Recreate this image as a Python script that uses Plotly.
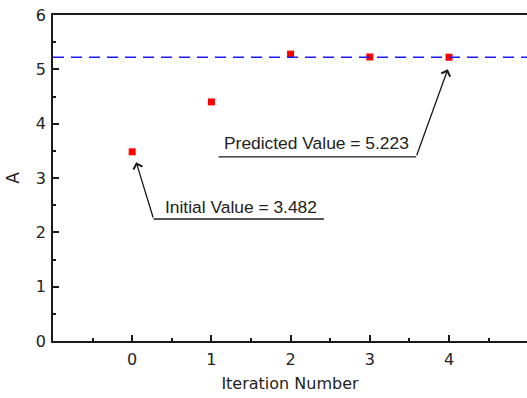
import plotly.graph_objects as go

iterations = [0, 1, 2, 3, 4]
a_values = [3.482, 4.40, 5.28, 5.227, 5.223]
initial_value = 3.482
predicted_value = 5.223
x_tick_vals = [0, 1, 2, 3, 4]
y_tick_vals = [0, 1, 2, 3, 4, 5, 6]

AX = "#1a1a1a"
TICKFONT = dict(family="DejaVu Sans", size=16, color="#222")

fig = go.Figure()
fig.add_hline(y=predicted_value, line=dict(color="#1a1aff", width=1.6, dash="11px,7px"))
fig.add_trace(go.Scatter(
    x=iterations, y=a_values, mode="markers",
    marker=dict(symbol="square", size=7, color="#ff0000", line=dict(width=0)),
    showlegend=False,
))

ann_font = dict(family="Liberation Sans, Arial", size=17.4, color="#222")
# Initial value annotation
fig.add_shape(type="line", x0=0.27, y0=2.245, x1=2.42, y1=2.245,
              line=dict(color=AX, width=1.3), xref="x", yref="y")
fig.add_annotation(x=iterations[0] + 0.05, y=initial_value - 0.19, ax=0.27, ay=2.245,
                   axref="x", ayref="y", xref="x", yref="y", text="",
                   showarrow=True, arrowhead=4, arrowsize=1.4, arrowwidth=1.3, arrowcolor=AX)
fig.add_annotation(x=0.395, y=2.47, xref="x", yref="y", text=f"Initial Value = {initial_value}",
                   showarrow=False, xanchor="left", yanchor="middle", font=ann_font)
# Predicted value annotation
fig.add_shape(type="line", x0=1.09, y0=3.39, x1=3.586, y1=3.39,
              line=dict(color=AX, width=1.3), xref="x", yref="y")
fig.add_annotation(x=iterations[4] - 0.015, y=predicted_value - 0.22, ax=3.586, ay=3.39,
                   axref="x", ayref="y", xref="x", yref="y", text="",
                   showarrow=True, arrowhead=4, arrowsize=1.4, arrowwidth=1.3, arrowcolor=AX)
fig.add_annotation(x=1.14, y=3.65, xref="x", yref="y", text=f"Predicted Value = {predicted_value}",
                   showarrow=False, xanchor="left", yanchor="middle", font=ann_font)

fig.update_xaxes(
    range=[-1, 4.985], tickvals=x_tick_vals, ticks="inside", ticklen=6, tickwidth=1.5,
    tickcolor=AX, showline=True, linecolor=AX, linewidth=1.6, mirror=True,
    showgrid=False, zeroline=False, tickfont=TICKFONT, ticklabelstandoff=3, automargin=False,
    ticklabeloverflow="allow",
    title=dict(text="Iteration Number", font=dict(family="DejaVu Sans", size=16, color="#222"), standoff=10),
    minor=dict(tickvals=[-0.5, 0.5, 1.5, 2.5, 3.5, 4.5], ticks="inside", ticklen=3, tickwidth=1.5, tickcolor=AX),
)
fig.update_yaxes(
    range=[0, 6], tickvals=y_tick_vals, ticks="inside", ticklen=6, tickwidth=1.5,
    tickcolor=AX, showline=True, linecolor=AX, linewidth=1.6, mirror=False,
    showgrid=False, zeroline=False, tickfont=TICKFONT, automargin=False, ticklabelstandoff=2,
    ticklabeloverflow="allow",
    title=dict(text="A", font=dict(family="DejaVu Sans", size=17, color="#222"), standoff=12),
    minor=dict(tickvals=[0.5, 1.5, 2.5, 3.5, 4.5, 5.5], ticks="inside", ticklen=3, tickwidth=1.5, tickcolor=AX),
)
fig.update_layout(
    width=527, height=398, margin=dict(l=53, r=0, t=15, b=57),
    plot_bgcolor="white", paper_bgcolor="white",
)
fig.write_html(
    "out.html",
    config={"displayModeBar": False},
    post_script="document.body.style.margin='0';document.body.style.overflow='hidden';",
)
